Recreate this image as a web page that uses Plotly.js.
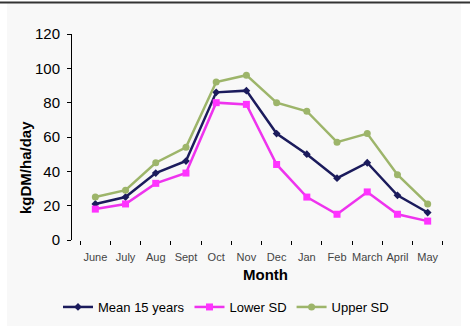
<!DOCTYPE html>
<html>
<head>
<meta charset="utf-8">
<script src="https://cdn.plot.ly/plotly-3.0.1.min.js"></script>
<style>html,body{margin:0;padding:0;background:#fff;}#chart{width:470px;height:326px;}</style>
</head>
<body>
<div id="chart"></div>
<script>
const months = ["June","July","Aug","Sept","Oct","Nov","Dec","Jan","Feb","March","April","May"];
const meanValues = [21, 25, 39, 46, 86, 87, 62, 50, 36, 45, 26, 16];
const lowerValues = [18, 21, 33, 39, 80, 79, 44, 25, 15, 28, 15, 11];
const upperValues = [25, 29, 45, 54, 92, 96, 80, 75, 57, 62, 38, 21];
const yTicks = [0, 20, 40, 60, 80, 100, 120];

const L = 72, R = 451, T = 34, B = 240, W = 470, H = 326;
const px = x => (x - L) / (R - L);
const py = y => (B - y) / (B - T);

const traces = [
  {x: months, y: meanValues, name: "Mean 15 years", type: "scatter", mode: "lines+markers",
   line: {color: "#1b1b5c", width: 2.5}, marker: {symbol: "diamond", size: 6, color: "#1b1b5c"}},
  {x: months, y: lowerValues, name: "Lower SD", type: "scatter", mode: "lines+markers",
   line: {color: "#ee33ee", width: 2.5}, marker: {symbol: "square", size: 7, color: "#ff33ff"}},
  {x: months, y: upperValues, name: "Upper SD", type: "scatter", mode: "lines+markers",
   line: {color: "#9db56a", width: 2.5}, marker: {symbol: "circle", size: 7, color: "#9db56a"}}
];

const layout = {
  width: W, height: H,
  margin: {l: L, r: W - R, t: T, b: H - B, autoexpand: false},
  paper_bgcolor: "#f8f8f8", plot_bgcolor: "#f8f8f8",
  font: {family: "Liberation Sans, Arial, sans-serif", color: "#000"},
  showlegend: true,
  legend: {orientation: "h", x: px(226), xanchor: "center", y: py(307), yanchor: "middle",
           font: {size: 13, color: "#000"}, bgcolor: "rgba(0,0,0,0)"},
  xaxis: {
    type: "category", showline: false, showgrid: false, zeroline: false, automargin: false,
    ticks: "outside", tickson: "boundaries", ticklen: 4, tickcolor: "#000", tickwidth: 1,
    tickangle: 0, tickfont: {size: 11, color: "#444"}, ticklabelstandoff: 9,
    fixedrange: true
  },
  yaxis: {
    range: [0, 120], tickvals: yTicks, ticktext: yTicks.map(String), automargin: false,
    showline: true, linecolor: "#000", linewidth: 1, showgrid: false, zeroline: false,
    ticks: "outside", ticklen: 4, tickcolor: "#000", ticklabelstandoff: 4,
    tickfont: {size: 15, color: "#000"}
  },
  annotations: [
    {text: "<b>Month</b>", xref: "paper", yref: "paper", x: px(265), y: py(274),
     xanchor: "center", yanchor: "middle", showarrow: false, font: {size: 15, color: "#000"}},
    {text: "<b>kgDM/ha/day</b>", xref: "paper", yref: "paper", x: px(25), y: py(168),
     xanchor: "center", yanchor: "middle", textangle: -90, showarrow: false, font: {size: 15, color: "#000"}}
  ],
  shapes: [
    {type: "rect", xref: "paper", yref: "paper", x0: px(0), x1: px(7), y0: py(0), y1: py(H), fillcolor: "#fff", line: {width: 0}},
    {type: "rect", xref: "paper", yref: "paper", x0: px(461), x1: px(W), y0: py(0), y1: py(H), fillcolor: "#fff", line: {width: 0}},
    {type: "rect", xref: "paper", yref: "paper", x0: px(0), x1: px(W), y0: py(0), y1: py(2), fillcolor: "#fff", line: {width: 0}},
    {type: "line", xref: "paper", yref: "paper", x0: px(0), x1: px(W), y0: py(2.5), y1: py(2.5), line: {color: "#333", width: 2}}
  ]
};

Plotly.newPlot("chart", traces, layout, {displayModeBar: false, staticPlot: true});
</script>
</body>
</html>
